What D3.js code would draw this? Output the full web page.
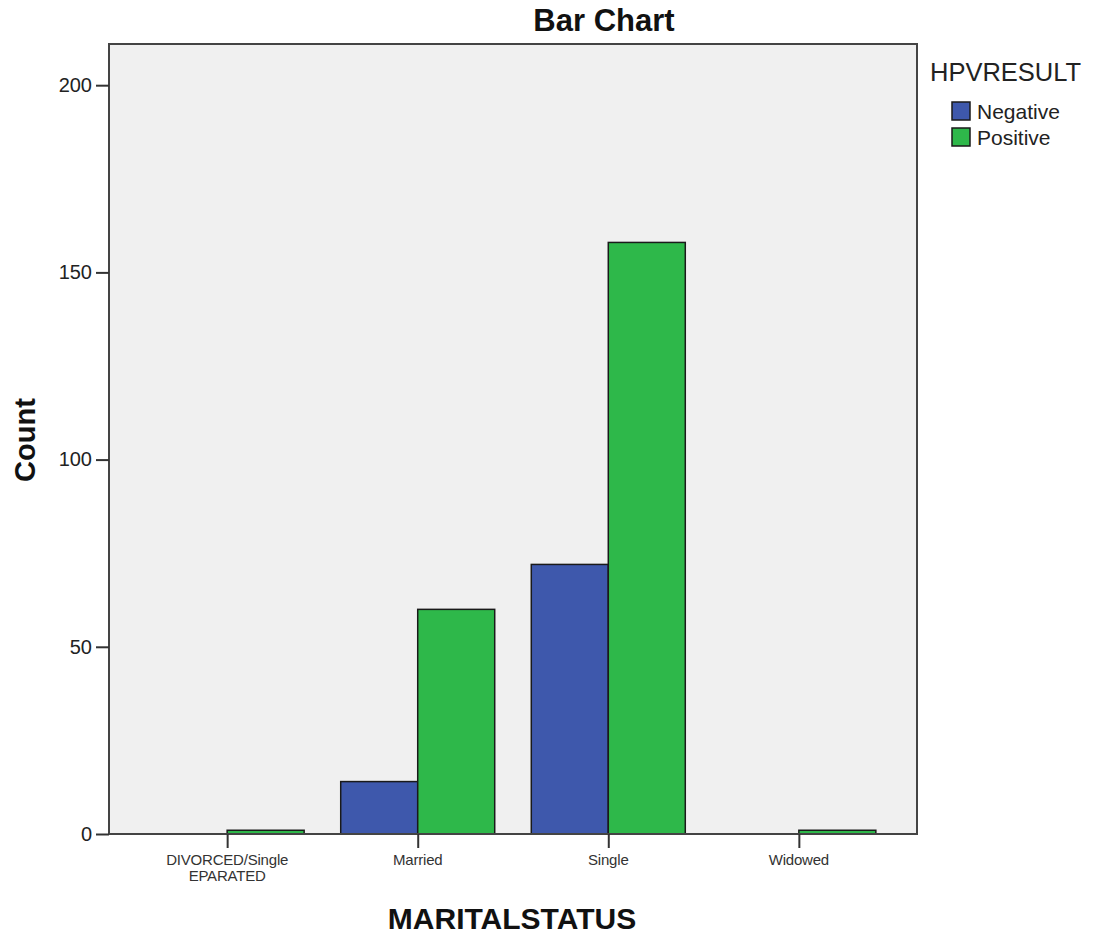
<!DOCTYPE html>
<html><head><meta charset="utf-8">
<script src="https://cdn.jsdelivr.net/npm/d3@7"></script>
<style>body{margin:0;background:#fff;} text{font-family:"Liberation Sans",Arial,sans-serif;}</style>
</head><body>
<svg id="c" width="1095" height="934"></svg>
<script>
const categories = ["DIVORCED/Single EPARATED", "Married", "Single", "Widowed"];
const categoryLines = [["DIVORCED/Single", "EPARATED"], ["Married"], ["Single"], ["Widowed"]];
const seriesNames = ["Negative", "Positive"];
const negativeValues = [0, 14, 72, 0];
const positiveValues = [1, 60, 158, 1];
const yTicks = [0, 50, 100, 150, 200];
const colors = ["#3e58ac", "#2eb84a"];

const svg = d3.select("#c");
const L = 109, R = 917, T = 44, B = 834;
const y = d3.scaleLinear().domain([0, 211]).range([B, T]);
const x = d3.scalePoint().domain(categories).range([L, R]).padding(0.62);
const bw = 77;

svg.append("rect").attr("x", L).attr("y", T).attr("width", R - L).attr("height", B - T)
  .attr("fill", "#f0f0f0");

const series = [negativeValues, positiveValues];
series.forEach((vals, si) => {
  svg.append("g").selectAll("rect").data(categories.map((c, i) => ({c, v: vals[i]})).filter(d => d.v > 0))
    .join("rect")
    .attr("x", d => x(d.c) + (si === 0 ? -bw : 0))
    .attr("y", d => y(d.v))
    .attr("width", bw)
    .attr("height", d => y(0) - y(d.v))
    .attr("fill", colors[si])
    .attr("stroke", "#1a1a1a").attr("stroke-width", 1.5);
});

// frame
svg.append("rect").attr("x", L).attr("y", T).attr("width", R - L).attr("height", B - T)
  .attr("fill", "none").attr("stroke", "#444").attr("stroke-width", 2);

// y axis
const ya = svg.append("g").attr("transform", `translate(${L},0)`)
  .call(d3.axisLeft(y).tickValues(yTicks).tickSize(13).tickPadding(4));
ya.select(".domain").remove();
ya.selectAll("line").attr("stroke", "#333").attr("stroke-width", 2);
ya.selectAll("text").attr("font-size", 20).attr("fill", "#222").attr("font-family", "Liberation Sans, Arial, sans-serif");

// x axis
const xa = svg.append("g").attr("transform", `translate(0,${B})`)
  .call(d3.axisBottom(x).tickSize(14).tickFormat(""));
xa.select(".domain").remove();
xa.selectAll("line").attr("stroke", "#333").attr("stroke-width", 2);
categories.forEach((c, i) => {
  const t = svg.append("text").attr("x", x(c)).attr("y", 865).attr("text-anchor", "middle")
    .attr("font-size", 15).attr("fill", "#333").attr("letter-spacing", -0.2);
  categoryLines[i].forEach((ln, j) => {
    t.append("tspan").attr("x", x(c)).attr("dy", j === 0 ? 0 : 16).text(ln);
  });
});

// titles
svg.append("text").attr("x", 604).attr("y", 31).attr("text-anchor", "middle")
  .attr("font-size", 31).attr("font-weight", "bold").attr("fill", "#111").text("Bar Chart");
svg.append("text").attr("transform", "translate(35,440) rotate(-90)").attr("text-anchor", "middle")
  .attr("font-size", 29).attr("font-weight", "bold").attr("fill", "#111").text("Count");
svg.append("text").attr("x", 512).attr("y", 929).attr("text-anchor", "middle")
  .attr("font-size", 30).attr("font-weight", "bold").attr("fill", "#111").text("MARITALSTATUS");

// legend
svg.append("text").attr("x", 930).attr("y", 81).attr("font-size", 25.5).attr("fill", "#222").text("HPVRESULT");
seriesNames.forEach((s, i) => {
  const yy = 102 + i * 26;
  svg.append("rect").attr("x", 952).attr("y", yy).attr("width", 18).attr("height", 18)
    .attr("fill", colors[i]).attr("stroke", "#1a1a1a").attr("stroke-width", 1.5);
  svg.append("text").attr("x", 977).attr("y", yy + 17).attr("font-size", 21).attr("fill", "#222").text(s);
});
</script>
</body></html>
